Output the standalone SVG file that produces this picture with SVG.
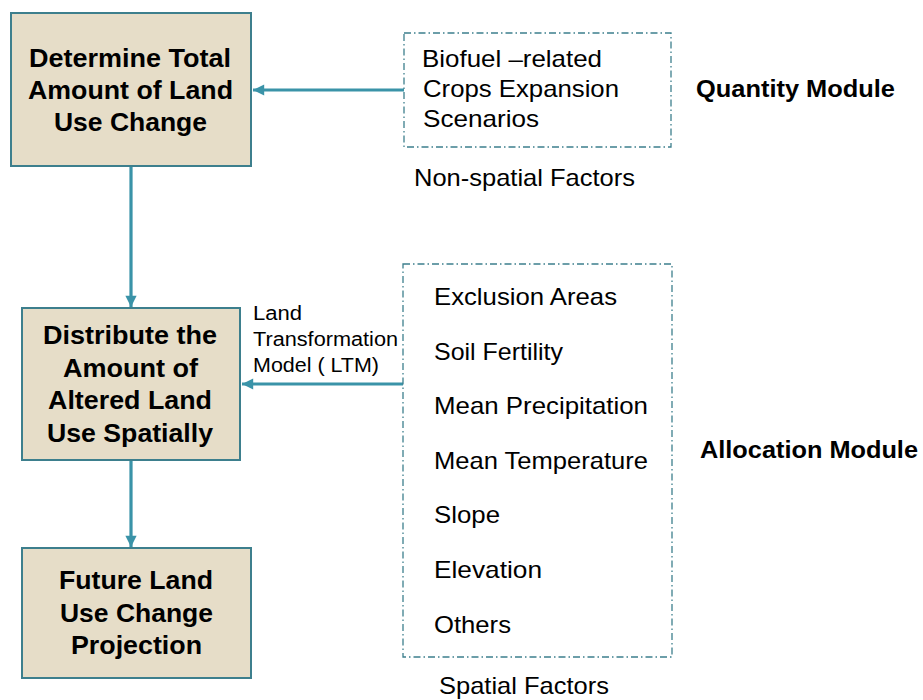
<svg xmlns="http://www.w3.org/2000/svg" width="923" height="700" viewBox="0 0 923 700">
<defs>
<style>
.box{fill:#E6DDC8;stroke:#3D7F8D;stroke-width:2}
.dash{fill:none;stroke:#3D7F8D;stroke-width:1.3;stroke-dasharray:7 3 1.5 3}
.bt{font-family:"Liberation Sans",Arial,sans-serif;font-size:25.5px;font-weight:bold;fill:#000;text-anchor:middle}
.t{font-family:"Liberation Sans",Arial,sans-serif;font-size:24px;fill:#000}
.s{font-family:"Liberation Sans",Arial,sans-serif;font-size:20px;fill:#000}
.mod{font-family:"Liberation Sans",Arial,sans-serif;font-size:23px;font-weight:bold;fill:#000}
.con{stroke:#3A93A8;stroke-width:3.2;fill:none}
</style>
<marker id="ah" viewBox="0 0 10 10" refX="10" refY="5" markerWidth="4" markerHeight="3.5" orient="auto" markerUnits="strokeWidth">
<path d="M0,0 L10,5 L0,10 z" fill="#3A93A8"/>
</marker>
</defs>
<rect width="923" height="700" fill="#fff"/>
<g id="connectors">
<line class="con" x1="404" y1="90" x2="253" y2="90" marker-end="url(#ah)"/>
<line class="con" x1="131" y1="166" x2="131" y2="307" marker-end="url(#ah)"/>
<line class="con" x1="403" y1="384" x2="242" y2="384" marker-end="url(#ah)"/>
<line class="con" x1="131" y1="460" x2="131" y2="547" marker-end="url(#ah)"/>
</g>
<g id="node-determine">
<rect class="box" x="11" y="13" width="240" height="153"/>
<text class="bt" x="130" y="67" textLength="202" lengthAdjust="spacingAndGlyphs">Determine Total</text>
<text class="bt" x="130.5" y="99" textLength="205" lengthAdjust="spacingAndGlyphs">Amount of Land</text>
<text class="bt" x="130.5" y="131" textLength="153" lengthAdjust="spacingAndGlyphs">Use Change</text>
</g>
<g id="node-distribute">
<rect class="box" x="22" y="308" width="218" height="152"/>
<text class="bt" x="130" y="344" textLength="174" lengthAdjust="spacingAndGlyphs">Distribute the</text>
<text class="bt" x="130.5" y="377" textLength="135" lengthAdjust="spacingAndGlyphs">Amount of</text>
<text class="bt" x="130" y="409" textLength="164" lengthAdjust="spacingAndGlyphs">Altered Land</text>
<text class="bt" x="130" y="442" textLength="166" lengthAdjust="spacingAndGlyphs">Use Spatially</text>
</g>
<g id="node-future">
<rect class="box" x="22" y="548" width="229" height="130"/>
<text class="bt" x="136" y="589" textLength="154" lengthAdjust="spacingAndGlyphs">Future Land</text>
<text class="bt" x="136.5" y="622" textLength="153" lengthAdjust="spacingAndGlyphs">Use Change</text>
<text class="bt" x="136.5" y="654" textLength="131" lengthAdjust="spacingAndGlyphs">Projection</text>
</g>
<g id="node-nonspatial">
<rect class="dash" x="404" y="33" width="267" height="114"/>
<text class="t" x="422" y="67" textLength="180" lengthAdjust="spacingAndGlyphs">Biofuel –related</text>
<text class="t" x="423" y="97" textLength="196" lengthAdjust="spacingAndGlyphs">Crops Expansion</text>
<text class="t" x="423" y="127" textLength="116" lengthAdjust="spacingAndGlyphs">Scenarios</text>
<text class="t" x="414" y="186" textLength="221" lengthAdjust="spacingAndGlyphs">Non-spatial Factors</text>
</g>
<g id="node-spatial">
<rect class="dash" x="403" y="264" width="269" height="393"/>
<text class="t" x="434" y="305" textLength="183" lengthAdjust="spacingAndGlyphs">Exclusion Areas</text>
<text class="t" x="434" y="360" textLength="129" lengthAdjust="spacingAndGlyphs">Soil Fertility</text>
<text class="t" x="434" y="414" textLength="214" lengthAdjust="spacingAndGlyphs">Mean Precipitation</text>
<text class="t" x="434" y="469" textLength="214" lengthAdjust="spacingAndGlyphs">Mean Temperature</text>
<text class="t" x="434" y="523" textLength="66" lengthAdjust="spacingAndGlyphs">Slope</text>
<text class="t" x="434" y="578" textLength="108" lengthAdjust="spacingAndGlyphs">Elevation</text>
<text class="t" x="434" y="633" textLength="77" lengthAdjust="spacingAndGlyphs">Others</text>
<text class="t" x="439" y="694" textLength="170" lengthAdjust="spacingAndGlyphs">Spatial Factors</text>
</g>
<g id="label-ltm">
<text class="s" x="253" y="320" textLength="49" lengthAdjust="spacingAndGlyphs">Land</text>
<text class="s" x="253" y="346" textLength="145" lengthAdjust="spacingAndGlyphs">Transformation</text>
<text class="s" x="253" y="372" textLength="126" lengthAdjust="spacingAndGlyphs">Model ( LTM)</text>
</g>
<g id="label-modules">
<text class="mod" x="696" y="97" textLength="199" lengthAdjust="spacingAndGlyphs">Quantity Module</text>
<text class="mod" x="700" y="458" textLength="218" lengthAdjust="spacingAndGlyphs">Allocation Module</text>
</g>
</svg>
